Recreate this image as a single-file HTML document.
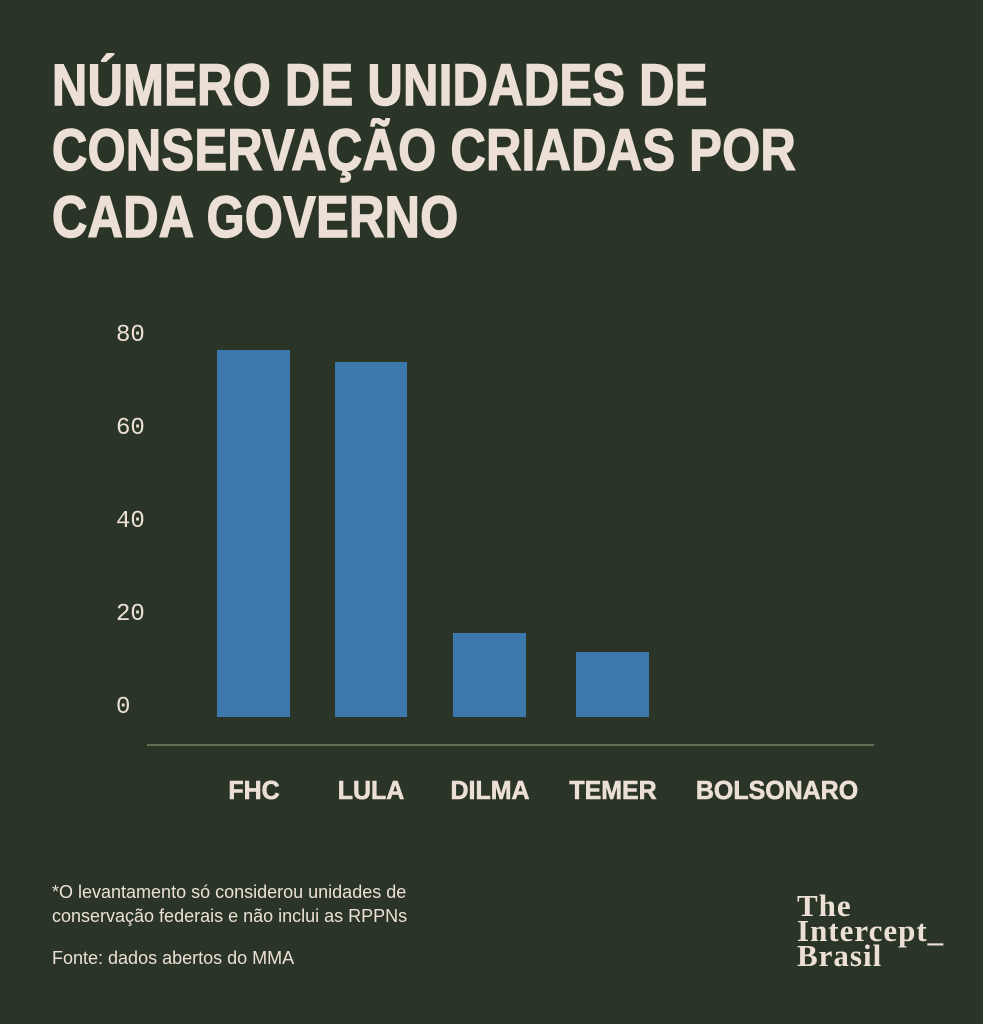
<!DOCTYPE html>
<html><head><meta charset="utf-8"><style>
html,body{margin:0;padding:0}
body{width:983px;height:1024px;background:#2b3527;position:relative;overflow:hidden;font-family:"Liberation Sans",sans-serif;color:#ece0d6}
.t{position:absolute;left:52px;font-weight:bold;font-size:58px;line-height:58px;transform-origin:left top;transform:scaleX(0.84);white-space:nowrap;letter-spacing:0.5px;-webkit-text-stroke:1.5px #ece0d6}
.y{position:absolute;font-family:"Liberation Mono",monospace;font-size:24px;left:116px;line-height:24px}
.bar{position:absolute;background:#3d78ac;bottom:307px}
.x{position:absolute;top:777px;font-weight:bold;font-size:26px;line-height:26px;transform:translateX(-50%) scaleX(0.96);white-space:nowrap;-webkit-text-stroke:0.6px #ece0d6}
.f{position:absolute;left:52px;font-size:18px;line-height:18px}
</style></head><body>
<div class="t" style="top:57px">NÚMERO DE UNIDADES DE</div>
<div class="t" style="top:122px">CONSERVAÇÃO CRIADAS POR</div>
<div class="t" style="top:189px">CADA GOVERNO</div>
<div class="y" style="top:324px">80</div>
<div class="y" style="top:417px">60</div>
<div class="y" style="top:510px">40</div>
<div class="y" style="top:603px">20</div>
<div class="y" style="top:696px">0</div>
<div class="bar" style="left:217px;width:73px;top:350px"></div>
<div class="bar" style="left:335px;width:72px;top:362px"></div>
<div class="bar" style="left:453px;width:73px;top:633px"></div>
<div class="bar" style="left:576px;width:73px;top:652px"></div>
<div style="position:absolute;left:147px;top:744px;width:727px;height:2px;background:#5e7152"></div>
<div class="x" style="left:254px">FHC</div>
<div class="x" style="left:371px">LULA</div>
<div class="x" style="left:490px">DILMA</div>
<div class="x" style="left:613px">TEMER</div>
<div class="x" style="left:777px">BOLSONARO</div>
<div class="f" style="top:883px">*O levantamento só considerou unidades de</div>
<div class="f" style="top:907px">conservação federais e não inclui as RPPNs</div>
<div class="f" style="top:949px">Fonte: dados abertos do MMA</div>
<div style="position:absolute;left:797px;top:893px;font-family:'Liberation Serif',serif;font-weight:bold;font-size:31px;line-height:25px;letter-spacing:1px">The<br>Intercept_<br>Brasil</div>
</body></html>
